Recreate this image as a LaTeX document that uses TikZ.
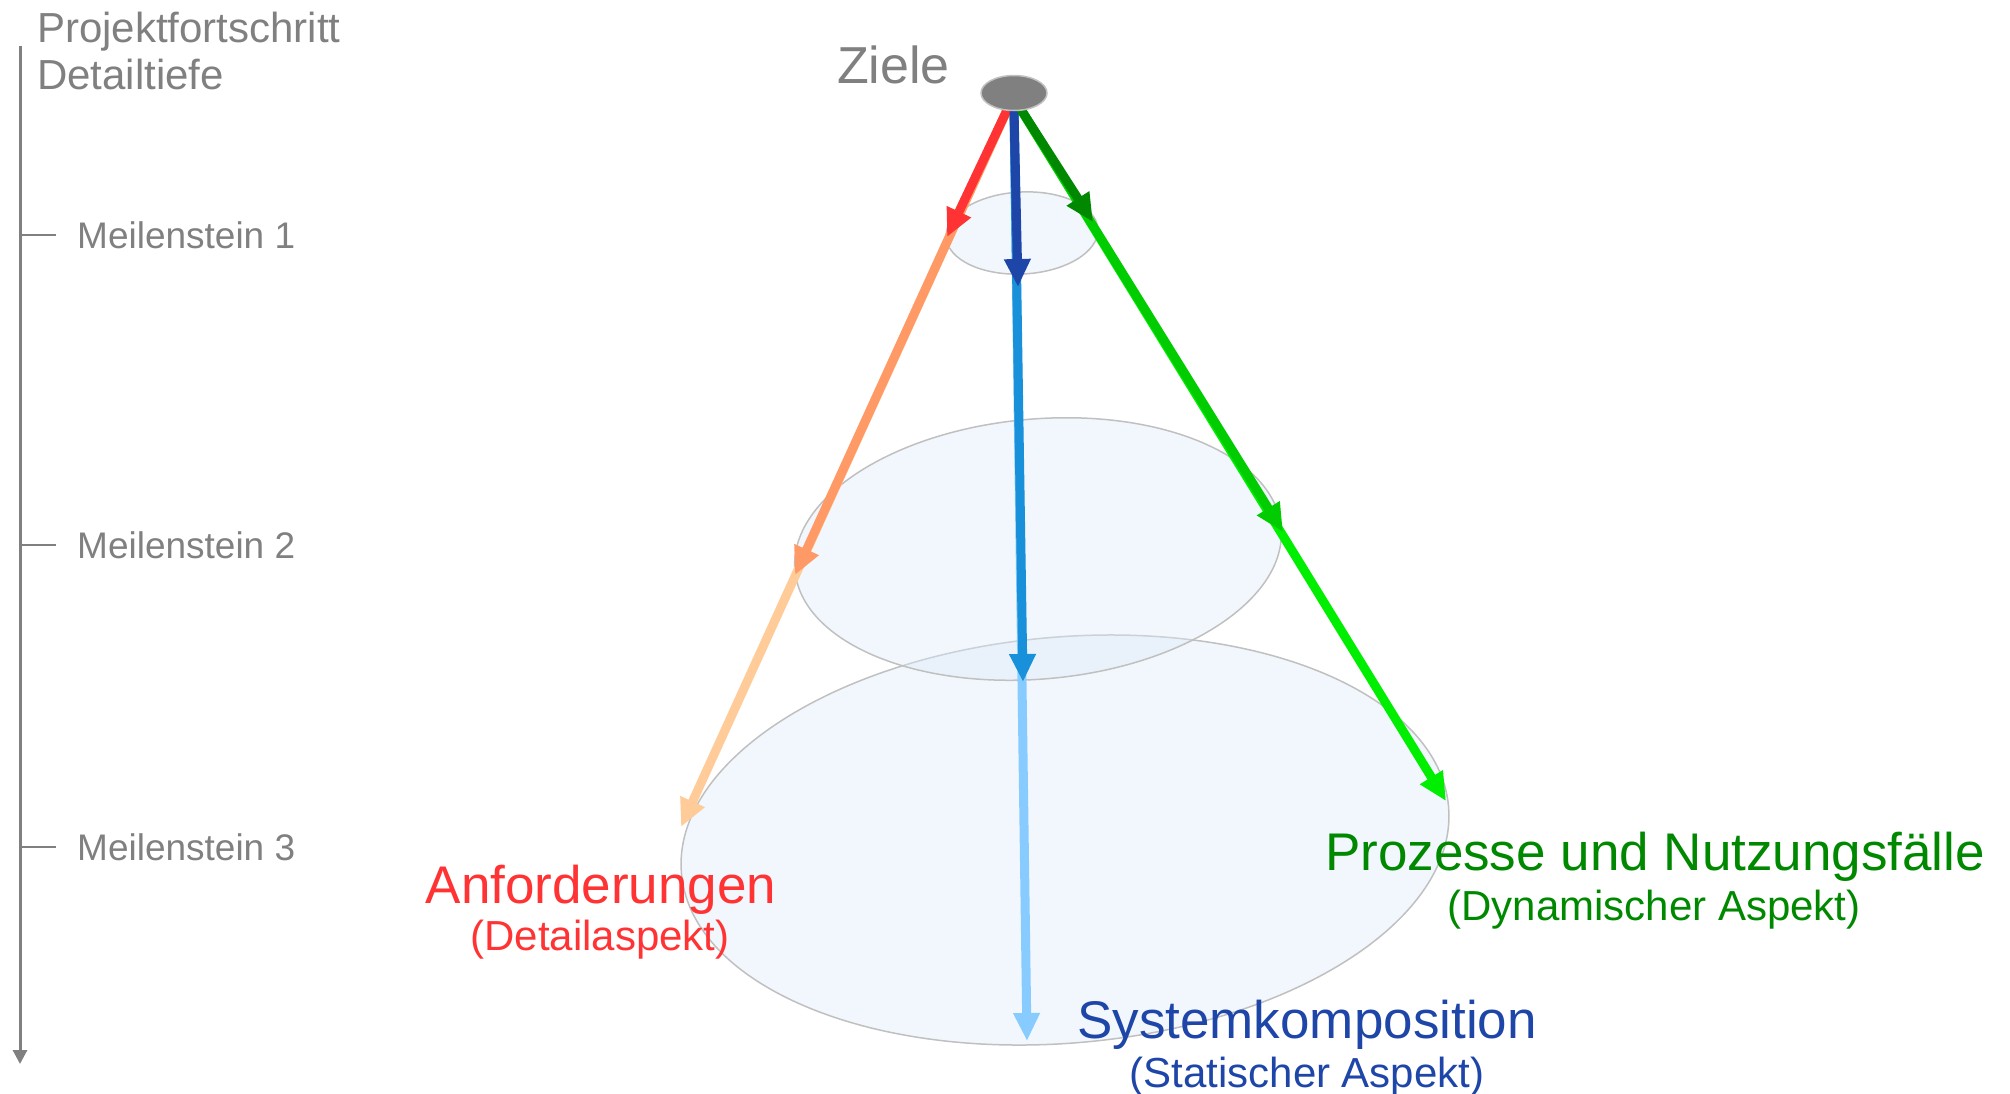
\documentclass[tikz,border=0pt]{standalone}
\usepackage{fontspec}
\setmainfont{Liberation Sans}
\usetikzlibrary{arrows.meta,shapes.geometric}
\definecolor{axgray}{HTML}{808080}
\definecolor{ellfill}{RGB}{220,235,248}
\definecolor{ellline}{HTML}{C0C0C0}
\definecolor{cred}{HTML}{FF3333}
\definecolor{corange}{HTML}{FF9966}
\definecolor{cpeach}{HTML}{FFCC99}
\definecolor{cdblue}{HTML}{1E46A8}
\definecolor{cmblue}{HTML}{1890DA}
\definecolor{clblue}{HTML}{88CCFF}
\definecolor{cdgreen}{HTML}{008800}
\definecolor{cmgreen}{HTML}{00CC00}
\definecolor{cbgreen}{HTML}{00EE00}
\tikzset{
  ell/.style={ellipse, draw=ellline, line width=1.5pt, fill=ellfill, fill opacity=0.4, draw opacity=1, inner sep=0pt},
  arr/.style={line width=9pt, -{Triangle[length=28pt,width=25pt]}},
  axisline/.style={draw=axgray, line width=3pt, -{Triangle[length=14pt,width=14pt]}},
  tick/.style={draw=axgray, line width=2pt},
  mlabel/.style={anchor=base west, inner sep=0pt, text=axgray, font=\fontsize{37}{44}\selectfont},
  big/.style={anchor=base, inner sep=0pt, font=\fontsize{53}{60}\selectfont},
  small/.style={anchor=base, inner sep=0pt, font=\fontsize{42}{48}\selectfont}
}
\begin{document}
\begin{tikzpicture}[x=1pt,y=-1pt]
\useasboundingbox (0,0) rectangle (2010,1093);
% axis
\coordinate (axtop) at (20,46);
\coordinate (axbot) at (20,1064);
\draw[axisline] (axtop) -- (axbot);
\coordinate (t1a) at (20,235); \coordinate (t1b) at (56,235);
\coordinate (t2a) at (20,545); \coordinate (t2b) at (56,545);
\coordinate (t3a) at (20,847); \coordinate (t3b) at (56,847);
\draw[tick] (t1a) -- (t1b);
\draw[tick] (t2a) -- (t2b);
\draw[tick] (t3a) -- (t3b);
\node[mlabel, font=\fontsize{42}{48}\selectfont] (h1) at (37,42) {Projektfortschritt};
\node[mlabel, font=\fontsize{42}{48}\selectfont] (h2) at (37,89) {Detailtiefe};
\node[mlabel] (ml1) at (77,248) {Meilenstein 1};
\node[mlabel] (ml2) at (77,558) {Meilenstein 2};
\node[mlabel] (ml3) at (77,860) {Meilenstein 3};
% ellipses
\node[ell, minimum width=770pt, minimum height=406pt, rotate=5] (m3) at (1065,840) {};
\node[ell, minimum width=488pt, minimum height=260pt, rotate=5] (m2) at (1038,549) {};
\node[ell, minimum width=152pt, minimum height=82pt, rotate=3] (m1) at (1022,233) {};
% arrow coordinates
\coordinate (rs) at (1008,108);
\coordinate (bs) at (1014,110);
\coordinate (gs) at (1020,108);
\coordinate (r1) at (947,237);
\coordinate (r2) at (795,575);
\coordinate (r3) at (681,827);
\coordinate (b1) at (1018,287);
\coordinate (b2) at (1023,682);
\coordinate (b3) at (1027,1041);
\coordinate (g1) at (1093,222);
\coordinate (g2) at (1283,532);
\coordinate (g3) at (1446,801);
% long arrows
\draw[arr, cpeach] (rs) -- (r3);
\draw[arr, clblue] (bs) -- (b3);
\draw[arr, cbgreen] (gs) -- (g3);
% mid arrows
\draw[arr, corange] (rs) -- (r2);
\draw[arr, cmblue] (bs) -- (b2);
\draw[arr, cmgreen] (gs) -- (g2);
% short arrows
\draw[arr, cred] (rs) -- (r1);
\draw[arr, cdblue] (bs) -- (b1);
\draw[arr, cdgreen] (gs) -- (g1);
% goal ellipse
\node[ellipse, draw=ellline, line width=1.5pt, fill=axgray, minimum width=66pt, minimum height=35pt, inner sep=0pt] (ziel) at (1014,93) {};
\node[anchor=base west, inner sep=0pt, text=axgray, font=\fontsize{52}{60}\selectfont] (zl) at (837,83) {Ziele};
% labels
\node[big, text=cred] (anf) at (601,903) {Anforderungen};
\node[small, text=cred] (anf2) at (600,950) {(Detailaspekt)};
\node[big, text=cdgreen] (pro) at (1655,870) {Prozesse und Nutzungsfälle};
\node[small, text=cdgreen] (pro2) at (1654,920) {(Dynamischer Aspekt)};
\node[big, text=cdblue] (sys) at (1307,1038) {Systemkomposition};
\node[small, text=cdblue] (sys2) at (1307,1087) {(Statischer Aspekt)};
\end{tikzpicture}
\end{document}
